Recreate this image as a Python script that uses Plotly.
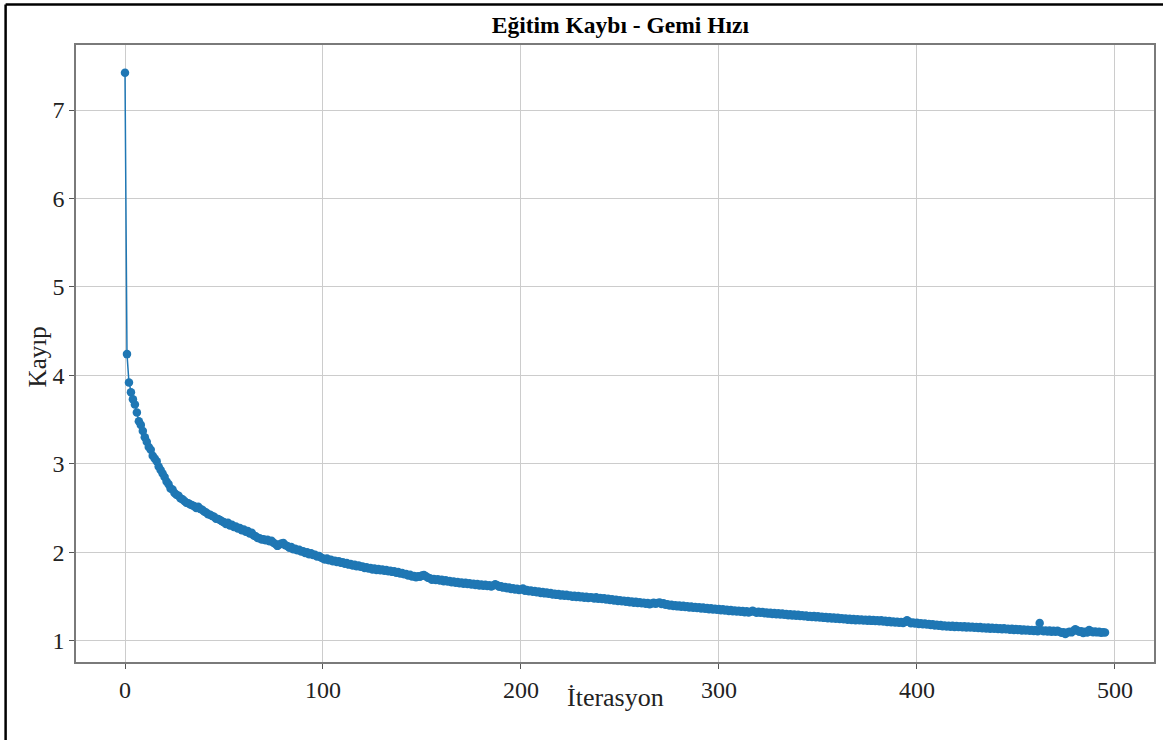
import plotly.graph_objects as go

# Training loss per iteration (ship speed model)
loss_0_99 = [
    7.42, 4.24, 3.92, 3.81, 3.73, 3.67, 3.58, 3.48, 3.44, 3.37,
    3.30, 3.25, 3.19, 3.16, 3.09, 3.06, 3.03, 2.97, 2.93, 2.89,
    2.85, 2.80, 2.77, 2.72, 2.71, 2.67, 2.65, 2.64, 2.61, 2.60,
    2.58, 2.56, 2.555, 2.54, 2.53, 2.52, 2.50, 2.515, 2.49, 2.48,
    2.46, 2.45, 2.43, 2.425, 2.41, 2.40, 2.38, 2.375, 2.365, 2.35,
    2.34, 2.318, 2.332, 2.302, 2.31, 2.285, 2.292, 2.268, 2.275, 2.25,
    2.258, 2.232, 2.24, 2.212, 2.22, 2.19, 2.182, 2.162, 2.158, 2.145,
    2.148, 2.135, 2.14, 2.125, 2.13, 2.108, 2.092, 2.072, 2.088, 2.098,
    2.105, 2.078, 2.07, 2.052, 2.058, 2.035, 2.04, 2.022, 2.028, 2.008,
    2.012, 1.992, 2.00, 1.978, 1.988, 1.968, 1.972, 1.952, 1.958, 1.94,
]
loss_100_199 = [
    1.93, 1.918, 1.928, 1.91, 1.915, 1.898, 1.905, 1.89, 1.897, 1.882,
    1.888, 1.87, 1.878, 1.86, 1.868, 1.85, 1.858, 1.842, 1.85, 1.835,
    1.84, 1.822, 1.83, 1.815, 1.822, 1.806, 1.815, 1.80, 1.81, 1.796,
    1.805, 1.79, 1.80, 1.785, 1.792, 1.778, 1.786, 1.768, 1.776, 1.76,
    1.765, 1.75, 1.755, 1.738, 1.745, 1.725, 1.732, 1.718, 1.728, 1.722,
    1.738, 1.742, 1.728, 1.712, 1.705, 1.69, 1.698, 1.685, 1.694, 1.68,
    1.688, 1.672, 1.682, 1.668, 1.676, 1.66, 1.67, 1.655, 1.664, 1.65,
    1.658, 1.645, 1.655, 1.64, 1.65, 1.635, 1.645, 1.63, 1.64, 1.625,
    1.635, 1.62, 1.632, 1.618, 1.628, 1.614, 1.625, 1.638, 1.628, 1.61,
    1.615, 1.60, 1.606, 1.592, 1.60, 1.585, 1.592, 1.578, 1.586, 1.572,
]
loss_200_299 = [
    1.578, 1.59, 1.565, 1.572, 1.56, 1.568, 1.552, 1.562, 1.548, 1.556,
    1.54, 1.55, 1.535, 1.545, 1.53, 1.538, 1.522, 1.532, 1.518, 1.528,
    1.512, 1.522, 1.508, 1.518, 1.505, 1.512, 1.498, 1.508, 1.494, 1.504,
    1.49, 1.50, 1.486, 1.496, 1.482, 1.492, 1.488, 1.478, 1.49, 1.475,
    1.484, 1.47, 1.48, 1.465, 1.474, 1.46, 1.468, 1.455, 1.464, 1.45,
    1.458, 1.445, 1.452, 1.44, 1.448, 1.435, 1.444, 1.43, 1.44, 1.426,
    1.435, 1.422, 1.43, 1.418, 1.426, 1.412, 1.42, 1.43, 1.418, 1.425,
    1.432, 1.415, 1.424, 1.405, 1.412, 1.398, 1.406, 1.392, 1.402, 1.388,
    1.398, 1.385, 1.394, 1.38, 1.39, 1.376, 1.386, 1.372, 1.382, 1.37,
    1.378, 1.364, 1.374, 1.36, 1.37, 1.356, 1.366, 1.352, 1.362, 1.35,
]
loss_300_399 = [
    1.358, 1.345, 1.355, 1.34, 1.35, 1.336, 1.346, 1.332, 1.342, 1.33,
    1.338, 1.326, 1.336, 1.322, 1.332, 1.32, 1.328, 1.338, 1.326, 1.316,
    1.328, 1.315, 1.325, 1.31, 1.32, 1.306, 1.316, 1.302, 1.312, 1.30,
    1.31, 1.296, 1.306, 1.292, 1.302, 1.288, 1.298, 1.286, 1.296, 1.282,
    1.292, 1.278, 1.288, 1.275, 1.285, 1.27, 1.28, 1.268, 1.278, 1.265,
    1.275, 1.262, 1.272, 1.258, 1.268, 1.255, 1.265, 1.252, 1.262, 1.248,
    1.258, 1.245, 1.255, 1.242, 1.252, 1.238, 1.248, 1.235, 1.245, 1.232,
    1.242, 1.23, 1.24, 1.228, 1.238, 1.226, 1.236, 1.224, 1.234, 1.222,
    1.232, 1.22, 1.23, 1.216, 1.226, 1.212, 1.222, 1.208, 1.218, 1.205,
    1.215, 1.202, 1.212, 1.20, 1.21, 1.232, 1.215, 1.198, 1.206, 1.194,
]
loss_400_495 = [
    1.202, 1.19, 1.198, 1.186, 1.194, 1.182, 1.19, 1.178, 1.186, 1.172,
    1.18, 1.168, 1.176, 1.162, 1.172, 1.16, 1.17, 1.158, 1.168, 1.156,
    1.166, 1.154, 1.164, 1.152, 1.162, 1.15, 1.16, 1.148, 1.158, 1.146,
    1.156, 1.144, 1.154, 1.142, 1.15, 1.138, 1.148, 1.136, 1.146, 1.134,
    1.144, 1.132, 1.142, 1.13, 1.14, 1.128, 1.136, 1.124, 1.134, 1.122,
    1.132, 1.12, 1.128, 1.116, 1.126, 1.114, 1.124, 1.112, 1.12, 1.11,
    1.12, 1.108, 1.20, 1.118, 1.106, 1.116, 1.104, 1.114, 1.102, 1.112,
    1.10, 1.112, 1.102, 1.09, 1.096, 1.076, 1.092, 1.102, 1.094, 1.11,
    1.13, 1.114, 1.10, 1.108, 1.088, 1.10, 1.092, 1.122, 1.108, 1.096,
    1.105, 1.094, 1.10, 1.09, 1.096, 1.092,
]
loss = loss_0_99 + loss_100_199 + loss_200_299 + loss_300_399 + loss_400_495
iterations = list(range(len(loss)))

x_ticks = [0, 100, 200, 300, 400, 500]
y_ticks = [1, 2, 3, 4, 5, 6, 7]

SERIF = "Liberation Serif"
BLUE = "#1f77b4"

fig = go.Figure()
fig.add_trace(go.Scatter(
    x=iterations, y=loss, mode="lines+markers",
    line=dict(color=BLUE, width=1.5),
    marker=dict(color=BLUE, size=8.5),
    showlegend=False,
))

axis_common = dict(
    showline=True, mirror=True, linecolor="#7a7a7a", linewidth=1.5,
    showgrid=True, gridcolor="#cccccc", gridwidth=1,
    zeroline=False, ticks="outside", ticklen=5, tickwidth=1, tickcolor="#555555",
    tickfont=dict(family=SERIF, size=24, color="#222222"),
)

fig.update_xaxes(range=[-24.75, 519.75], tickvals=x_ticks, **axis_common)
fig.update_yaxes(range=[0.759, 7.735], tickvals=y_ticks, **axis_common)

fig.update_layout(
    width=1163, height=740,
    margin=dict(l=76, r=7, t=45, b=78),
    paper_bgcolor="white", plot_bgcolor="white",
    title=dict(
        text="<b>Eğitim Kaybı - Gemi Hızı</b>",
        font=dict(family=SERIF, size=23.5, color="#000000"),
        x=0.505, xref="paper", xanchor="center",
        y=0.966, yref="container", yanchor="middle",
    ),
    annotations=[
        dict(text="İterasyon", x=0.5, y=-0.057, xref="paper", yref="paper",
             xanchor="center", yanchor="middle", showarrow=False,
             font=dict(family=SERIF, size=26, color="#222222")),
        dict(text="Kayıp", x=-0.036, y=0.494, xref="paper", yref="paper",
             xanchor="center", yanchor="middle", showarrow=False, textangle=-90,
             font=dict(family=SERIF, size=25, color="#222222")),
    ],
    shapes=[
        # outer page frame (top and left edges visible)
        dict(type="line", xref="paper", yref="paper",
             x0=-0.0653, x1=1.2, y0=1.0656, y1=1.0656,
             line=dict(color="black", width=2.5)),
        dict(type="line", xref="paper", yref="paper",
             x0=-0.0653, x1=-0.0653, y0=-0.2, y1=1.0656,
             line=dict(color="black", width=2.5)),
    ],
)

fig.write_html("out.html")
